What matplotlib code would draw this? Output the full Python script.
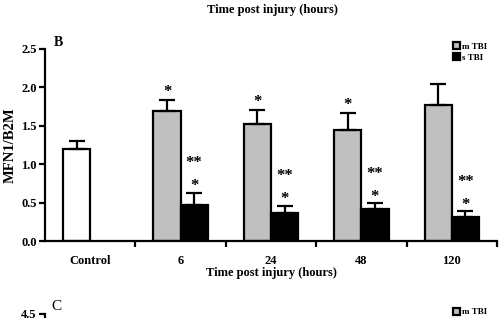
import matplotlib
matplotlib.use("Agg")
import matplotlib.pyplot as plt
import numpy as np

plt.rcParams["font.family"] = ["Liberation Serif", "DejaVu Serif"]
plt.rcParams["font.weight"] = "bold"

# data
categories = ["Control", "6", "24", "48", "120"]
control_mean = 1.20
control_err = 0.10
mild_mean = [1.69, 1.52, 1.45, 1.77]
mild_err = [0.14, 0.19, 0.22, 0.27]
severe_mean = [0.47, 0.36, 0.42, 0.31]
severe_err = [0.16, 0.10, 0.07, 0.08]
mild_stars = ["*", "*", "*", ""]
severe_stars_top = ["**", "**", "**", "**"]
severe_stars_low = ["*", "*", "*", "*"]

GRAY = "#c0c0c0"
W = 0.3
LW = 1.6

fig = plt.figure(figsize=(5.0, 3.18), dpi=100)
ax = fig.add_axes([0.09, 0.242, 0.904, 0.604])

err_kw = dict(ecolor="black", elinewidth=LW, capsize=5.5, capthick=LW)

ax.bar(0 - W / 2, control_mean, W, color="white", edgecolor="black",
       linewidth=LW, yerr=[[0], [control_err]], error_kw=err_kw)
x = np.arange(1, len(categories))
b1 = ax.bar(x - W / 2, mild_mean, W, color=GRAY, edgecolor="black",
            linewidth=LW, yerr=[np.zeros(len(x)), mild_err], error_kw=err_kw,
            label="m TBI")
b2 = ax.bar(x + W / 2, severe_mean, W, color="black", edgecolor="black",
            linewidth=LW, yerr=[np.zeros(len(x)), severe_err], error_kw=err_kw,
            label="s TBI")

for i in range(len(x)):
    top = mild_mean[i] + mild_err[i]
    if mild_stars[i]:
        ax.text(x[i] - W / 2, top + 0.0, mild_stars[i], ha="center",
                va="bottom", fontsize=12, fontweight="bold")
    stop = severe_mean[i] + severe_err[i]
    ax.text(x[i] + W / 2, stop - 0.02, severe_stars_low[i], ha="center",
            va="bottom", fontsize=12, fontweight="bold")
    ax.text(x[i] + W / 2, stop + 0.28, severe_stars_top[i], ha="center",
            va="bottom", fontsize=12, fontweight="bold")

ax.set_xlim(-0.5, 4.5)
ax.set_ylim(0, 2.5)
ax.set_yticks([0.0, 0.5, 1.0, 1.5, 2.0, 2.5])
ax.set_yticklabels(["0.0", "0.5", "1.0", "1.5", "2.0", "2.5"])
ax.set_xticks(np.arange(len(categories)))
ax.set_xticklabels(categories)
ax.set_xticks(np.arange(0.5, 4.6, 1.0), minor=True)
ax.tick_params(axis="x", which="major", length=0, pad=10, labelsize=9)
ax.tick_params(axis="x", which="minor", length=4, width=LW, direction="out")
ax.tick_params(axis="y", length=4, width=LW, direction="out", labelsize=9, pad=2)
for s in ["top", "right"]:
    ax.spines[s].set_visible(False)
for s in ["left", "bottom"]:
    ax.spines[s].set_linewidth(LW)
ax.set_ylabel("MFN1/B2M", fontsize=10.5, fontweight="bold", labelpad=3.5)
ax.set_xlabel("Time post injury (hours)", fontsize=9, fontweight="bold", labelpad=0)
ax.text(0.02, 1.0, "B", transform=ax.transAxes, fontsize=10,
        fontweight="bold", va="bottom", ha="left")

leg_kw = dict(loc="upper right", frameon=False, fontsize=6.5,
              handlelength=0.7, handleheight=0.8, handletextpad=0.3,
              labelspacing=0.3, borderaxespad=0, borderpad=0)
ax.legend(handles=[b1, b2], bbox_to_anchor=(0.975, 0.868),
          bbox_transform=fig.transFigure, **leg_kw)

# title line left over from the panel above
fig.text(0.544, 0.968, "Time post injury (hours)", ha="center", va="center",
         fontsize=9, fontweight="bold")

# top of the next panel, cut off by the image edge
axc = fig.add_axes([0.09, -0.6, 0.904, 0.6126])
axc.set_ylim(0, 4.5)
axc.set_xlim(-0.5, 4.5)
axc.set_yticks([4.5])
axc.set_yticklabels(["4.5"])
axc.set_xticks([])
axc.tick_params(axis="y", length=4, width=LW, direction="out", labelsize=9, pad=2)
for s in ["top", "right", "bottom"]:
    axc.spines[s].set_visible(False)
axc.spines["left"].set_linewidth(LW)
axc.patch.set_visible(False)
axc.text(0.015, 1.005, "C", transform=axc.transAxes, fontsize=11,
         fontweight="normal", va="bottom", ha="left")
hc1 = plt.Rectangle((0, 0), 1, 1, facecolor=GRAY, edgecolor="black", linewidth=LW)
hc2 = plt.Rectangle((0, 0), 1, 1, facecolor="#e0e0e0", edgecolor="#e0e0e0", linewidth=LW)
fig.legend(handles=[hc1, hc2], labels=["m TBI", "s TBI"],
           bbox_to_anchor=(0.975, 0.032), bbox_transform=fig.transFigure, **leg_kw)

fig.savefig("out.png", dpi=100)
